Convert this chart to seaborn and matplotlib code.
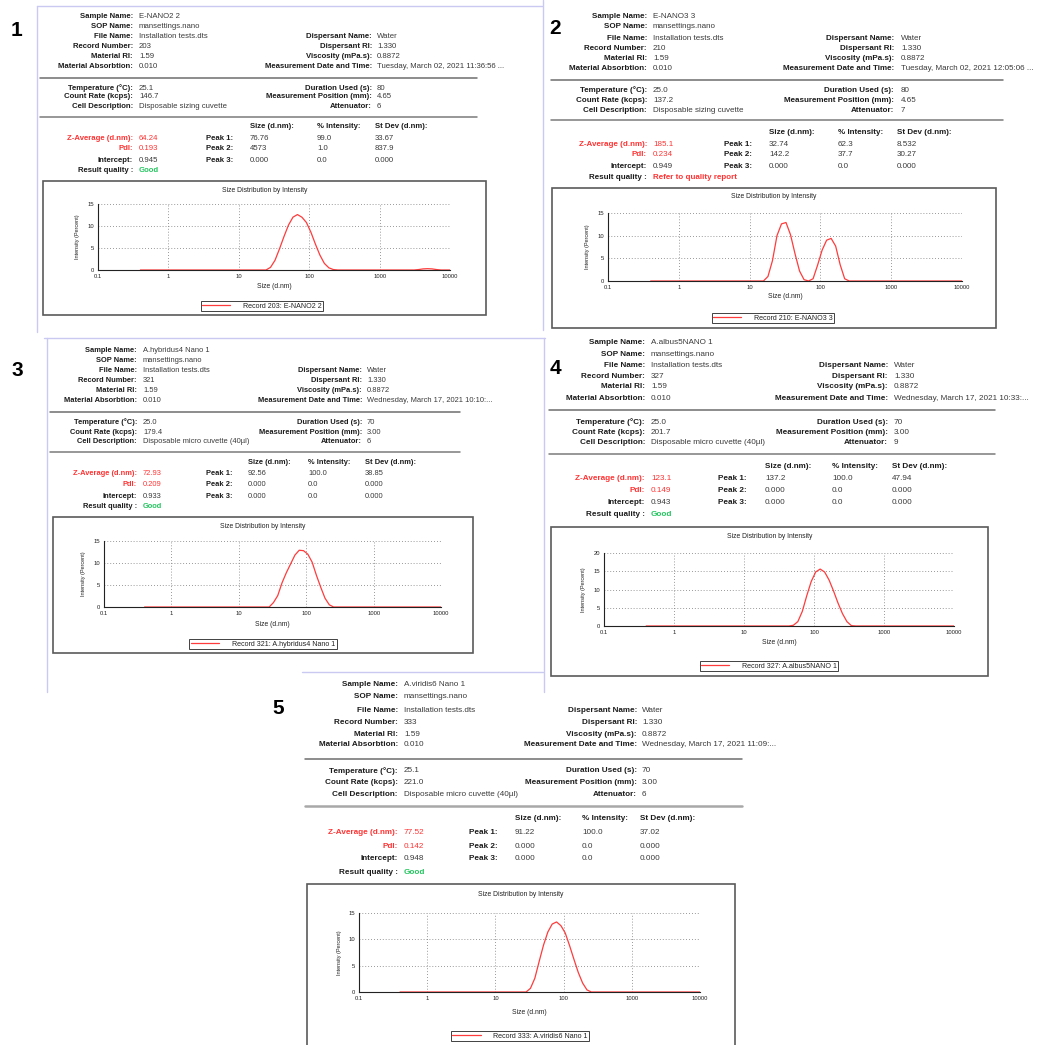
import matplotlib
matplotlib.use("Agg")
import matplotlib.pyplot as plt
import seaborn as sns
import numpy as np
from matplotlib.lines import Line2D
from matplotlib.patches import Rectangle
from matplotlib.ticker import LogLocator, MultipleLocator, NullFormatter

# ---------------- data ----------------
sample_names = ["E-NANO2 2", "E-NANO3 3", "A.hybridus4 Nano 1", "A.albus5NANO 1", "A.viridis6 Nano 1"]
record_numbers = ["203", "210", "321", "327", "333"]
sop_name = "mansettings.nano"
file_name = "Installation tests.dts"
material_ri = "1.59"
material_abs = "0.010"
dispersant_name = "Water"
dispersant_ri = "1.330"
viscosity = "0.8872"
measure_dates = ["Tuesday, March 02, 2021 11:36:56 ...",
                 "Tuesday, March 02, 2021 12:05:06 ...",
                 "Wednesday, March 17, 2021 10:10:...",
                 "Wednesday, March 17, 2021 10:33:...",
                 "Wednesday, March 17, 2021 11:09:..."]
temperatures = ["25.1", "25.0", "25.0", "25.0", "25.1"]
count_rates = ["146.7", "137.2", "179.4", "201.7", "221.0"]
cell_descs = ["Disposable sizing cuvette", "Disposable sizing cuvette",
              "Disposable micro cuvette (40µl)", "Disposable micro cuvette (40µl)",
              "Disposable micro cuvette (40µl)"]
durations = ["80", "80", "70", "70", "70"]
meas_positions = ["4.65", "4.65", "3.00", "3.00", "3.00"]
attenuators = ["6", "7", "6", "9", "6"]
z_averages = ["64.24", "185.1", "72.93", "123.1", "77.52"]
pdis = ["0.193", "0.234", "0.209", "0.149", "0.142"]
intercepts = ["0.945", "0.949", "0.933", "0.943", "0.948"]
qualities = ["Good", "Refer to quality report", "Good", "Good", "Good"]
peak_sizes = [["76.76", "4573", "0.000"], ["32.74", "142.2", "0.000"], ["92.56", "0.000", "0.000"],
              ["137.2", "0.000", "0.000"], ["91.22", "0.000", "0.000"]]
peak_intensity = [["99.0", "1.0", "0.0"], ["62.3", "37.7", "0.0"], ["100.0", "0.0", "0.0"],
                  ["100.0", "0.0", "0.0"], ["100.0", "0.0", "0.0"]]
peak_stdev = [["33.67", "837.9", "0.000"], ["8.532", "30.27", "0.000"], ["38.85", "0.000", "0.000"],
              ["47.94", "0.000", "0.000"], ["37.02", "0.000", "0.000"]]

size_1 = [0.4, 24.36, 28.21, 32.67, 37.84, 43.82, 50.75, 58.77, 68.06, 78.82, 91.28, 105.7, 122.4,
          141.8, 164.2, 190.1, 220.2, 255.0, 3091, 3580, 4145, 4801, 5560, 6439, 7456, 10000]
intensity_1 = [0, 0, 0.6, 2.2, 4.8, 7.6, 10.2, 12.0, 12.6, 12.0, 10.8, 8.6, 5.9,
               3.4, 1.5, 0.5, 0.1, 0, 0, 0.1, 0.25, 0.3, 0.25, 0.1, 0, 0]
size_2 = [0.4, 15.69, 18.17, 21.04, 24.36, 28.21, 32.67, 37.84, 43.82, 50.75, 58.77, 68.06, 78.82,
          91.28, 105.7, 122.4, 141.8, 164.2, 190.1, 220.2, 255.0, 10000]
intensity_2 = [0, 0, 1.0, 4.5, 10.0, 12.6, 12.9, 10.2, 6.0, 2.2, 0.3, 0, 0.5,
               3.5, 6.8, 9.0, 9.4, 7.7, 3.6, 0.5, 0, 0]
size_3 = [0.4, 28.21, 32.67, 37.84, 43.82, 50.75, 58.77, 68.06, 78.82, 91.28, 105.7, 122.4, 141.8,
          164.2, 190.1, 220.2, 255.0, 10000]
intensity_3 = [0, 0, 1.0, 2.6, 5.5, 7.8, 9.8, 11.8, 12.9, 12.8, 12.0, 10.2, 7.2,
               4.5, 2.0, 0.5, 0, 0]
size_4 = [0.4, 43.82, 50.75, 58.77, 68.06, 78.82, 91.28, 105.7, 122.4, 141.8, 164.2, 190.1, 220.2,
          255.0, 295.3, 342.0, 396.1, 10000]
intensity_4 = [0, 0, 0.2, 1.2, 4.0, 8.3, 12.2, 14.8, 15.6, 14.8, 12.6, 9.6, 6.3,
               3.4, 1.2, 0.1, 0, 0]
size_5 = [0.4, 28.21, 32.67, 37.84, 43.82, 50.75, 58.77, 68.06, 78.82, 91.28, 105.7, 122.4, 141.8,
          164.2, 190.1, 220.2, 255.0, 10000]
intensity_5 = [0, 0, 0.7, 2.6, 5.8, 8.9, 11.4, 12.9, 13.3, 12.6, 11.2, 8.8, 6.2,
               3.7, 1.7, 0.4, 0, 0]
curve_sizes = [size_1, size_2, size_3, size_4, size_5]
curve_intensities = [intensity_1, intensity_2, intensity_3, intensity_4, intensity_5]
y_max = [15, 15, 15, 20, 15]
y_ticks = [[0, 5, 10, 15], [0, 5, 10, 15], [0, 5, 10, 15], [0, 5, 10, 15, 20], [0, 5, 10, 15]]
x_ticks = [0.1, 1, 10, 100, 1000, 10000]
x_tick_labels = ["0.1", "1", "10", "100", "1000", "10000"]
legend_labels = ["Record %s: %s" % (r, s) for r, s in zip(record_numbers, sample_names)]

# ---------------- layout (pixels) ----------------
W, H = 1037, 1045
LAYOUT = [
    dict(num=(17, 30), lx=133, vx=139, rx=372, rvx=377, rows1=[16, 27, 37, 47, 57, 67], h1=78, hx=(40, 477),
         rows2=[88, 97, 107], h2=117, hdr=127, cols=[250, 317, 375], prx=233, rows3=[138, 149, 160, 171], fs=5.6),
    dict(num=(555, 29), lx=647, vx=653, rx=894, rvx=901, rows1=[16, 27, 38, 49, 59, 69], h1=80, hx=(551, 1003),
         rows2=[90, 100, 110], h2=120, hdr=132, cols=[769, 838, 897], prx=752, rows3=[144, 155, 166, 177], fs=5.8),
    dict(num=(17, 370), lx=137, vx=143, rx=362, rvx=367, rows1=[350, 360, 371, 381, 391, 401], h1=412, hx=(50, 460),
         rows2=[422, 432, 442], h2=452, hdr=462, cols=[248, 308, 365], prx=232, rows3=[473, 485, 496, 507], fs=5.4),
    dict(num=(555, 368), lx=645, vx=651, rx=888, rvx=894, rows1=[342, 354, 366, 377, 387, 398], h1=410, hx=(549, 995),
         rows2=[422, 432, 443], h2=454, hdr=466, cols=[765, 832, 892], prx=747, rows3=[478, 491, 503, 515], fs=5.9),
    dict(num=(278, 708), lx=398, vx=404, rx=637, rvx=642, rows1=[685, 697, 710, 722, 734, 745], h1=759, hx=(305, 742),
         rows2=[771, 782, 794], h2=806, hdr=819, cols=[515, 582, 640], prx=498, rows3=[833, 846, 859, 872], fs=5.9),
]
CHARTS = [
    dict(box=(43, 181, 486, 315), ty=190, ax=(98, 204, 450, 270), xl=286, yl=78, leg=(262, 306)),
    dict(box=(552, 188, 996, 328), ty=197, ax=(608, 213, 962, 281), xl=297, yl=588, leg=(773, 318)),
    dict(box=(53, 517, 473, 653), ty=526, ax=(104, 541, 441, 607), xl=624, yl=84, leg=(263, 644)),
    dict(box=(551, 527, 988, 676), ty=536, ax=(604, 553, 954, 626), xl=643, yl=584, leg=(769, 666)),
    dict(box=(307, 884, 735, 1060), ty=895, ax=(359, 913, 700, 992), xl=1012, yl=339, leg=(520, 1036)),
]

sns.set_style("white")
plt.rcParams["font.family"] = ["Liberation Sans", "DejaVu Sans"]

fig = plt.figure(figsize=(W / 100, H / 100), dpi=100)
fig.patch.set_facecolor("white")

LABEL_C = "#1c1c1c"
VAL_C = "#3a3a3a"
RED = "#ff3333"
GREEN = "#22c55e"
LAV = "#c9c9f2"


def T(x, y, s, ha="left", bold=False, color=VAL_C, fs=5.8):
    fig.text(x / W, 1 - y / H, s, ha=ha, va="center", fontsize=fs,
             fontweight="bold" if bold else "normal", color=color)


def hline(x1, x2, y, color="#6d6d6d", lw=1.1):
    fig.add_artist(Line2D([x1 / W, x2 / W], [1 - y / H, 1 - y / H], transform=fig.transFigure,
                          color=color, lw=lw))


def vline(x, y1, y2, color=LAV, lw=1.0):
    fig.add_artist(Line2D([x / W, x / W], [1 - y1 / H, 1 - y2 / H], transform=fig.transFigure,
                          color=color, lw=lw))


# panel borders (lavender)
vline(37, 6, 332); hline(37, 542, 6, color=LAV, lw=1.0); vline(543, 0, 330)
hline(44, 545, 338, color=LAV, lw=1.0); vline(47, 338, 692); vline(544, 338, 692)
hline(302, 543, 672, color=LAV, lw=1.0)

for i in range(5):
    L = LAYOUT[i]
    fs = L["fs"]
    T(L["num"][0], L["num"][1], str(i + 1), ha="center", bold=True, color="black", fs=15)

    left_labels = ["Sample Name:", "SOP Name:", "File Name:", "Record Number:", "Material RI:",
                   "Material Absorbtion:"]
    left_vals = [sample_names[i], sop_name, file_name, record_numbers[i], material_ri, material_abs]
    for r in range(6):
        T(L["lx"], L["rows1"][r], left_labels[r], ha="right", bold=True, color=LABEL_C, fs=fs)
        T(L["vx"], L["rows1"][r], left_vals[r], fs=fs)
    right_labels = ["Dispersant Name:", "Dispersant RI:", "Viscosity (mPa.s):", "Measurement Date and Time:"]
    right_vals = [dispersant_name, dispersant_ri, viscosity, measure_dates[i]]
    for r in range(4):
        T(L["rx"], L["rows1"][r + 2], right_labels[r], ha="right", bold=True, color=LABEL_C, fs=fs)
        T(L["rvx"], L["rows1"][r + 2], right_vals[r], fs=fs)
    hline(L["hx"][0], L["hx"][1], L["h1"])

    l2 = ["Temperature (°C):", "Count Rate (kcps):", "Cell Description:"]
    v2 = [temperatures[i], count_rates[i], cell_descs[i]]
    r2 = ["Duration Used (s):", "Measurement Position (mm):", "Attenuator:"]
    rv2 = [durations[i], meas_positions[i], attenuators[i]]
    for r in range(3):
        T(L["lx"], L["rows2"][r], l2[r], ha="right", bold=True, color=LABEL_C, fs=fs)
        T(L["vx"], L["rows2"][r], v2[r], fs=fs)
        T(L["rx"], L["rows2"][r], r2[r], ha="right", bold=True, color=LABEL_C, fs=fs)
        T(L["rvx"], L["rows2"][r], rv2[r], fs=fs)
    hline(L["hx"][0], L["hx"][1], L["h2"], color="#7a7a7a" if i < 4 else "#a8a8a8", lw=1.1 if i < 4 else 1.8)

    for c, h in enumerate(["Size (d.nm):", "% Intensity:", "St Dev (d.nm):"]):
        T(L["cols"][c], L["hdr"], h, bold=True, color=LABEL_C, fs=fs)
    l3 = ["Z-Average (d.nm):", "PdI:", "Intercept:", "Result quality :"]
    v3 = [z_averages[i], pdis[i], intercepts[i], qualities[i]]
    lc = [RED, RED, LABEL_C, LABEL_C]
    vc = [RED, RED, VAL_C, GREEN if qualities[i] == "Good" else RED]
    for r in range(4):
        T(L["lx"], L["rows3"][r], l3[r], ha="right", bold=True, color=lc[r], fs=fs)
        T(L["vx"], L["rows3"][r], v3[r], bold=(r == 3), color=vc[r], fs=fs)
    for k in range(3):
        T(L["prx"], L["rows3"][k], "Peak %d:" % (k + 1), ha="right", bold=True, color=LABEL_C, fs=fs)
        T(L["cols"][0], L["rows3"][k], peak_sizes[i][k], fs=fs)
        T(L["cols"][1], L["rows3"][k], peak_intensity[i][k], fs=fs)
        T(L["cols"][2], L["rows3"][k], peak_stdev[i][k], fs=fs)

    # ---- chart ----
    C = CHARTS[i]
    bx1, by1, bx2, by2 = C["box"]
    fig.add_artist(Rectangle((bx1 / W, 1 - by2 / H), (bx2 - bx1) / W, (by2 - by1) / H, fill=False,
                             ec="#5a5a5a", lw=1.2, transform=fig.transFigure))
    T((bx1 + bx2) / 2, C["ty"], "Size Distribution by Intensity", ha="center", color="#222222", fs=4.9)
    ax1, ay1, ax2, ay2 = C["ax"]
    ax = fig.add_axes([ax1 / W, 1 - ay2 / H, (ax2 - ax1) / W, (ay2 - ay1) / H])
    ax.set_facecolor("white")
    sns.lineplot(x=curve_sizes[i], y=curve_intensities[i], ax=ax, color="#ff3b3b", lw=0.9,
                 estimator=None, sort=False, label=legend_labels[i])
    ax.set_xscale("log")
    ax.set_xlim(0.1, 10000)
    ax.set_ylim(0, y_max[i])
    ax.set_xticks(x_ticks)
    ax.set_xticklabels(x_tick_labels)
    ax.xaxis.set_minor_locator(LogLocator(base=10, subs=np.arange(2, 10)))
    ax.xaxis.set_minor_formatter(NullFormatter())
    ax.set_yticks(y_ticks[i])
    ax.yaxis.set_minor_locator(MultipleLocator(2.5))
    ax.grid(True, which="major", ls=(0, (1, 2.5)), color="#777777", lw=0.6)
    ax.set_axisbelow(True)
    for s in ["top", "right"]:
        ax.spines[s].set_visible(False)
    for s in ["left", "bottom"]:
        ax.spines[s].set_color("#222222")
        ax.spines[s].set_linewidth(0.8)
    ax.tick_params(which="major", direction="inout", length=2.6, width=0.6, labelsize=4.2, pad=1.5,
                   colors="#222222")
    ax.tick_params(which="minor", direction="inout", length=1.6, width=0.6, colors="#222222")
    ax.set_xlabel("Size (d.nm)", fontsize=4.9, color="#222222")
    ax.xaxis.set_label_coords(0.5, -(C["xl"] - ay2) / (ay2 - ay1))
    ax.xaxis.label.set_va("center")
    ax.set_ylabel("Intensity (Percent)", fontsize=4.0, color="#222222")
    ax.yaxis.set_label_coords((C["yl"] - ax1) / (ax2 - ax1), 0.5)
    ax.yaxis.label.set_va("center")
    leg = ax.legend(loc="center", bbox_to_anchor=(C["leg"][0] / W, 1 - C["leg"][1] / H),
                    bbox_transform=fig.transFigure, fontsize=5.1, frameon=True, fancybox=False,
                    edgecolor="#111111", handlelength=4.0, borderpad=0.2, handletextpad=1.8,
                    borderaxespad=0)
    leg.get_frame().set_linewidth(0.7)
    for t in leg.get_texts():
        t.set_color("#222222")

fig.savefig("out.png", dpi=100, facecolor="white")
